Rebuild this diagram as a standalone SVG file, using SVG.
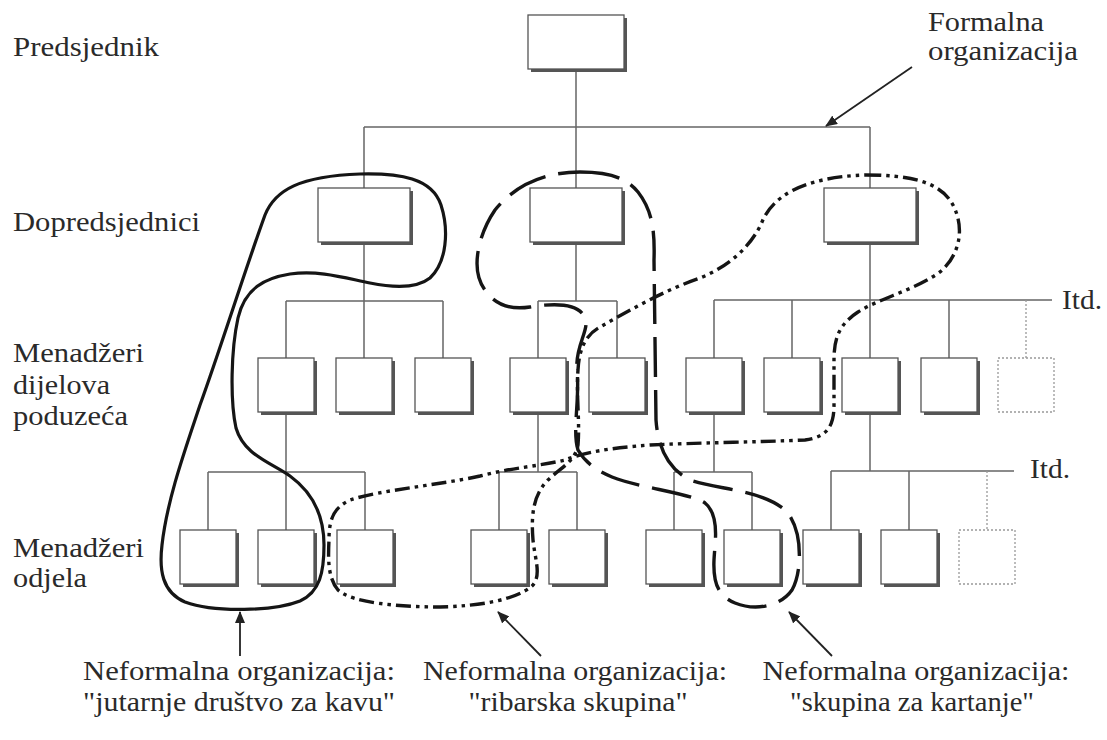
<svg xmlns="http://www.w3.org/2000/svg" width="1107" height="740" viewBox="0 0 1107 740">
<defs>
<style>
.lbl{font-family:"Liberation Serif","Times New Roman",serif;font-size:28px;fill:#2a2a2a}
.bl{font-family:"Liberation Serif","Times New Roman",serif;font-size:27px;fill:#2a2a2a}
.ln{stroke:#666;stroke-width:1.5;fill:none}
.dl{stroke:#999;stroke-width:1.3;fill:none;stroke-dasharray:2 2}
.sh{fill:#555}
.bx{fill:#fff;stroke:#555;stroke-width:1.3}
.dbx{fill:#fff;stroke:#999;stroke-width:1.3;stroke-dasharray:2 2}
.solid{fill:none;stroke:#151515;stroke-width:3.2}
.dash{fill:none;stroke:#151515;stroke-width:3.4;stroke-dasharray:40 13}
.ddot{fill:none;stroke:#151515;stroke-width:3.4;stroke-dasharray:15 5 3.5 5 3.5 5}
.arr{stroke:#222;stroke-width:1.8;fill:none}
</style>
<marker id="ah" viewBox="0 0 12 10" refX="11" refY="5" markerWidth="12" markerHeight="10" markerUnits="userSpaceOnUse" orient="auto">
<path d="M0 0 L12 5 L0 10 Z" fill="#222"/>
</marker>
</defs>
<rect width="1107" height="740" fill="#fff"/>

<g id="labels">
<text class="lbl" x="13" y="56" textLength="146" lengthAdjust="spacingAndGlyphs">Predsjednik</text>
<text class="lbl" x="13" y="231" textLength="187" lengthAdjust="spacingAndGlyphs">Dopredsjednici</text>
<text class="lbl" x="13" y="362" textLength="131" lengthAdjust="spacingAndGlyphs">Menadžeri</text>
<text class="lbl" x="13" y="394" textLength="97" lengthAdjust="spacingAndGlyphs">dijelova</text>
<text class="lbl" x="13" y="425" textLength="115" lengthAdjust="spacingAndGlyphs">poduzeća</text>
<text class="lbl" x="13" y="557" textLength="131" lengthAdjust="spacingAndGlyphs">Menadžeri</text>
<text class="lbl" x="13" y="587" textLength="74" lengthAdjust="spacingAndGlyphs">odjela</text>
<text class="lbl" x="928" y="31" textLength="116" lengthAdjust="spacingAndGlyphs">Formalna</text>
<text class="lbl" x="928" y="60" textLength="150" lengthAdjust="spacingAndGlyphs">organizacija</text>
<text class="lbl" x="1062" y="309" textLength="40" lengthAdjust="spacingAndGlyphs">Itd.</text>
<text class="lbl" x="1030" y="478" textLength="40" lengthAdjust="spacingAndGlyphs">Itd.</text>
<text class="bl" x="239" y="680" text-anchor="middle" textLength="312" lengthAdjust="spacingAndGlyphs">Neformalna organizacija:</text>
<text class="bl" x="239" y="711" text-anchor="middle" textLength="312" lengthAdjust="spacingAndGlyphs">"jutarnje društvo za kavu"</text>
<text class="bl" x="575" y="680" text-anchor="middle" textLength="304" lengthAdjust="spacingAndGlyphs">Neformalna organizacija:</text>
<text class="bl" x="578" y="711" text-anchor="middle" textLength="219" lengthAdjust="spacingAndGlyphs">"ribarska skupina"</text>
<text class="bl" x="916" y="680" text-anchor="middle" textLength="307" lengthAdjust="spacingAndGlyphs">Neformalna organizacija:</text>
<text class="bl" x="912" y="711" text-anchor="middle" textLength="244" lengthAdjust="spacingAndGlyphs">"skupina za kartanje"</text>
</g>

<g id="connectors">
<path class="ln" d="M576 69 V127 M364 127 H870 M364 127 V188 M576 127 V188 M870 127 V188"/>
<path class="ln" d="M364 242 V301 M286 301 H443 M286 301 V358 M364 301 V358 M443 301 V358"/>
<path class="ln" d="M576 242 V301 M538 301 H617 M538 301 V358 M617 301 V358"/>
<path class="ln" d="M870 242 V300 M714 300 H1052 M714 300 V358 M792 300 V358 M870 300 V358 M949 300 V358"/>
<path class="dl" d="M1026 300 V358"/>
<path class="ln" d="M286 412 V472 M208 472 H365 M208 472 V530 M286 472 V530 M365 472 V530"/>
<path class="ln" d="M538 412 V472 M499 472 H577 M499 472 V530 M577 472 V530"/>
<path class="ln" d="M714 412 V472 M674 472 H752 M674 472 V530 M752 472 V530"/>
<path class="ln" d="M870 412 V471 M831 471 H1014 M831 471 V530 M909 471 V530"/>
<path class="dl" d="M987 471 V530"/>
<path class="arr" d="M912 67 L826 126" marker-end="url(#ah)"/>
<path class="arr" d="M240 656 L240 612" marker-end="url(#ah)"/>
<path class="arr" d="M541 656 L498 612" marker-end="url(#ah)"/>
<path class="arr" d="M832 656 L789 612" marker-end="url(#ah)"/>
</g>

<g id="president"><rect class="sh" x="531" y="18" width="96" height="54"/><rect class="bx" x="528" y="15" width="96" height="54"/></g>
<g id="vp1"><rect class="sh" x="321" y="191" width="92" height="54"/><rect class="bx" x="318" y="188" width="92" height="54"/></g>
<g id="vp2"><rect class="sh" x="533" y="191" width="92" height="54"/><rect class="bx" x="530" y="188" width="92" height="54"/></g>
<g id="vp3"><rect class="sh" x="827" y="191" width="92" height="54"/><rect class="bx" x="824" y="188" width="92" height="54"/></g>

<g id="div1"><rect class="sh" x="261" y="361" width="56" height="54"/><rect class="bx" x="258" y="358" width="56" height="54"/></g>
<g id="div2"><rect class="sh" x="339" y="361" width="56" height="54"/><rect class="bx" x="336" y="358" width="56" height="54"/></g>
<g id="div3"><rect class="sh" x="418" y="361" width="56" height="54"/><rect class="bx" x="415" y="358" width="56" height="54"/></g>
<g id="div4"><rect class="sh" x="513" y="361" width="56" height="54"/><rect class="bx" x="510" y="358" width="56" height="54"/></g>
<g id="div5"><rect class="sh" x="592" y="361" width="56" height="54"/><rect class="bx" x="589" y="358" width="56" height="54"/></g>
<g id="div6"><rect class="sh" x="689" y="361" width="56" height="54"/><rect class="bx" x="686" y="358" width="56" height="54"/></g>
<g id="div7"><rect class="sh" x="767" y="361" width="56" height="54"/><rect class="bx" x="764" y="358" width="56" height="54"/></g>
<g id="div8"><rect class="sh" x="845" y="361" width="56" height="54"/><rect class="bx" x="842" y="358" width="56" height="54"/></g>
<g id="div9"><rect class="sh" x="924" y="361" width="56" height="54"/><rect class="bx" x="921" y="358" width="56" height="54"/></g>
<g id="div10"><rect class="dbx" x="998" y="358" width="56" height="54"/></g>

<g id="dep1"><rect class="sh" x="183" y="533" width="56" height="54"/><rect class="bx" x="180" y="530" width="56" height="54"/></g>
<g id="dep2"><rect class="sh" x="261" y="533" width="56" height="54"/><rect class="bx" x="258" y="530" width="56" height="54"/></g>
<g id="dep3"><rect class="sh" x="340" y="533" width="56" height="54"/><rect class="bx" x="337" y="530" width="56" height="54"/></g>
<g id="dep4"><rect class="sh" x="474" y="533" width="56" height="54"/><rect class="bx" x="471" y="530" width="56" height="54"/></g>
<g id="dep5"><rect class="sh" x="552" y="533" width="56" height="54"/><rect class="bx" x="549" y="530" width="56" height="54"/></g>
<g id="dep6"><rect class="sh" x="649" y="533" width="56" height="54"/><rect class="bx" x="646" y="530" width="56" height="54"/></g>
<g id="dep7"><rect class="sh" x="727" y="533" width="56" height="54"/><rect class="bx" x="724" y="530" width="56" height="54"/></g>
<g id="dep8"><rect class="sh" x="806" y="533" width="56" height="54"/><rect class="bx" x="803" y="530" width="56" height="54"/></g>
<g id="dep9"><rect class="sh" x="884" y="533" width="56" height="54"/><rect class="bx" x="881" y="530" width="56" height="54"/></g>
<g id="dep10"><rect class="dbx" x="959" y="530" width="56" height="54"/></g>

<g id="informal-coffee">
<path class="solid" d="M360 174 C400 173 432 178 441 205 C449 230 447 262 430 278 C415 290 390 287 370 283 C345 278 320 270 290 274 C265 278 245 288 238 318 C231 350 230 400 236 428 C244 455 270 462 290 476 C312 492 324 515 324 545 C324 572 320 592 300 601 C275 611 215 613 185 602 C162 592 159 570 162 545 C167 500 185 450 200 405 C220 350 245 270 265 215 C275 190 300 176 360 174 Z"/>
</g>
<g id="informal-cards">
<path class="dash" d="M580 172 C605 172 625 176 638 192 C652 210 655 230 654 260 L656 420 C658 450 670 470 690 480 C720 490 765 490 787 512 C802 530 803 570 792 590 C780 607 755 611 735 603 C718 596 713 583 714 560 C715 540 720 515 705 503 C690 493 640 488 612 477 C595 470 585 462 578 450 C572 430 580 400 577 370 C575 345 590 330 585 318 C580 305 560 302 530 307 C510 310 495 305 485 290 C470 270 478 235 495 210 C515 185 545 172 580 172 Z"/>
</g>
<g id="informal-fishing">
<path class="ddot" d="M866 175 C905 175 940 180 953 205 C965 228 960 255 940 272 C915 290 880 298 858 312 C838 325 834 340 834 360 L834 405 C834 425 828 437 805 440 C760 442 690 443 650 445 C610 448 585 452 565 460 C540 466 510 468 480 476 C440 485 380 490 350 500 C333 508 329 520 329 540 C328 560 328 578 338 590 C352 603 400 607 440 607 C480 606 515 600 532 586 C542 576 535 560 533 540 C531 515 533 495 548 480 C560 468 575 462 578 445 C580 420 576 395 578 370 C579 350 585 335 600 327 C630 310 665 290 700 278 C730 266 752 245 762 222 C772 198 800 177 866 175 Z"/>
</g>
</svg>
